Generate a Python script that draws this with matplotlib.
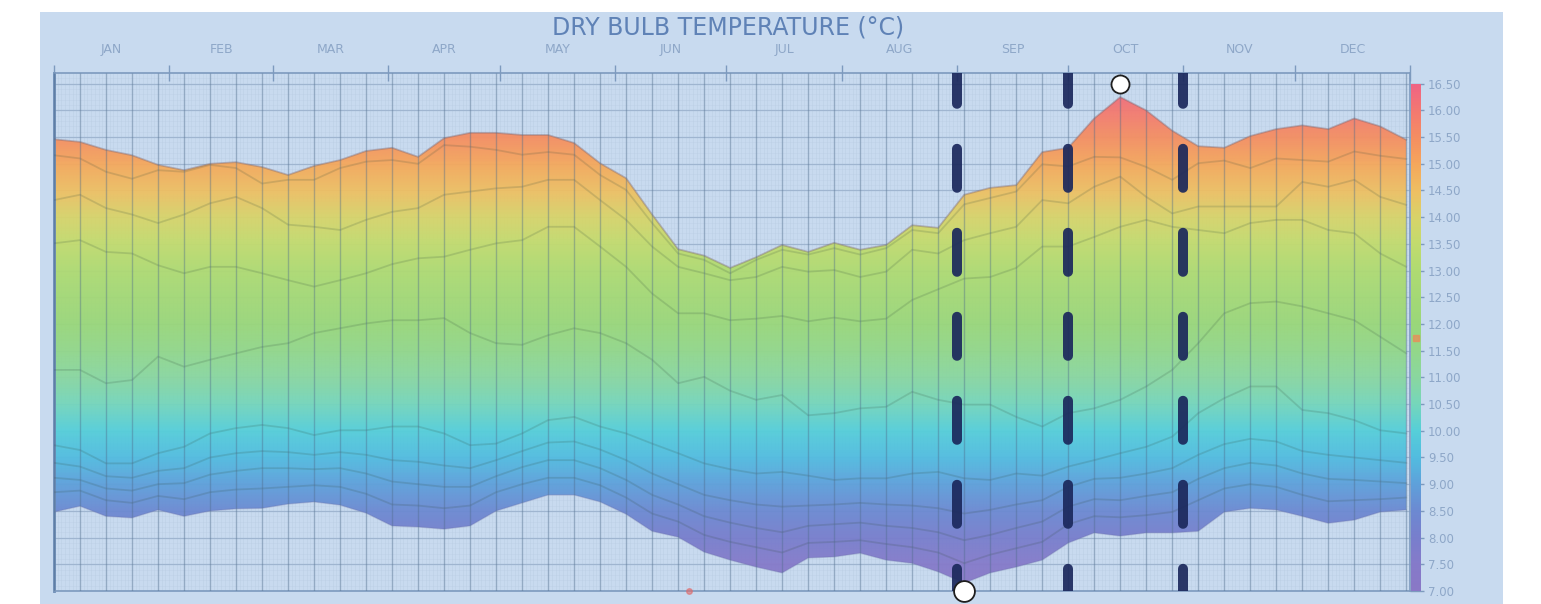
import numpy as np
import matplotlib
matplotlib.use("Agg")
import matplotlib.pyplot as plt
from matplotlib.colors import LinearSegmentedColormap
from matplotlib.patches import Polygon, Rectangle

# weekly samples of the daily dry bulb temperature spread (deg C)
weeks = np.arange(53)

t_max = [15.46, 15.41, 15.26, 15.16, 14.98, 14.88, 15.00, 15.03, 14.94, 14.79, 14.96, 15.07, 15.24, 15.30,
         15.13, 15.48, 15.58, 15.58, 15.54, 15.54, 15.39, 15.01, 14.73, 14.05, 13.40, 13.28, 13.05,
         13.25, 13.48, 13.35, 13.52, 13.39, 13.48, 13.85, 13.80, 14.42, 14.55, 14.60, 15.22,
         15.30, 15.85, 16.25, 16.00, 15.62, 15.33, 15.30, 15.52, 15.65, 15.72, 15.65, 15.85, 15.70, 15.45]
t_a = [15.16, 15.10, 14.85, 14.72, 14.88, 14.85, 14.98, 14.92, 14.63, 14.70, 14.70, 14.92, 15.04, 15.07,
       15.00, 15.35, 15.32, 15.26, 15.17, 15.22, 15.17, 14.79, 14.51, 13.89, 13.32, 13.20, 12.95,
       13.20, 13.39, 13.30, 13.42, 13.30, 13.42, 13.76, 13.70, 14.24, 14.36, 14.48, 14.99,
       14.95, 15.13, 15.12, 14.94, 14.70, 15.01, 15.06, 14.92, 15.10, 15.07, 15.04, 15.23, 15.15, 15.09]
t_b = [14.32, 14.42, 14.17, 14.05, 13.89, 14.05, 14.26, 14.38, 14.17, 13.86, 13.82, 13.76, 13.95, 14.10,
       14.17, 14.42, 14.48, 14.54, 14.57, 14.70, 14.70, 14.32, 13.95, 13.45, 13.07, 12.95, 12.82,
       12.88, 13.07, 12.98, 13.01, 12.88, 12.98, 13.39, 13.32, 13.57, 13.70, 13.82, 14.32,
       14.26, 14.57, 14.76, 14.38, 14.07, 14.20, 14.20, 14.20, 14.20, 14.66, 14.57, 14.70, 14.38, 14.23]
t_c = [13.51, 13.57, 13.35, 13.32, 13.10, 12.95, 13.07, 13.07, 12.95, 12.82, 12.70, 12.82, 12.95, 13.12,
       13.23, 13.26, 13.39, 13.51, 13.57, 13.82, 13.82, 13.45, 13.07, 12.57, 12.20, 12.20, 12.07,
       12.10, 12.15, 12.05, 12.12, 12.05, 12.10, 12.45, 12.65, 12.85, 12.88, 13.05, 13.45,
       13.45, 13.63, 13.82, 13.95, 13.82, 13.76, 13.70, 13.89, 13.95, 13.95, 13.76, 13.70, 13.32, 13.07]
t_d = [11.14, 11.14, 10.89, 10.95, 11.39, 11.20, 11.33, 11.45, 11.57, 11.64, 11.83, 11.92, 12.01, 12.07,
       12.07, 12.11, 11.83, 11.64, 11.61, 11.79, 11.92, 11.83, 11.64, 11.33, 10.89, 11.01, 10.75,
       10.58, 10.67, 10.29, 10.33, 10.42, 10.45, 10.73, 10.58, 10.49, 10.49, 10.26, 10.08,
       10.33, 10.42, 10.58, 10.83, 11.14, 11.64, 12.20, 12.39, 12.42, 12.33, 12.20, 12.07, 11.76, 11.45]
t_e = [9.73, 9.64, 9.39, 9.39, 9.58, 9.70, 9.95, 10.05, 10.11, 10.05, 9.92, 10.01, 10.01, 10.08,
       10.08, 9.95, 9.73, 9.76, 9.95, 10.20, 10.26, 10.08, 9.95, 9.76, 9.58, 9.39, 9.28,
       9.20, 9.23, 9.16, 9.08, 9.11, 9.11, 9.20, 9.23, 9.11, 9.08, 9.20, 9.16,
       9.33, 9.45, 9.58, 9.70, 9.89, 10.33, 10.61, 10.83, 10.83, 10.39, 10.33, 10.20, 10.01, 9.95]
t_f = [9.40, 9.33, 9.15, 9.12, 9.25, 9.30, 9.50, 9.58, 9.62, 9.60, 9.55, 9.60, 9.55, 9.45,
       9.42, 9.35, 9.30, 9.45, 9.62, 9.78, 9.80, 9.65, 9.45, 9.20, 9.00, 8.80, 8.70,
       8.62, 8.58, 8.60, 8.62, 8.65, 8.62, 8.60, 8.55, 8.45, 8.52, 8.62, 8.70,
       8.95, 9.10, 9.12, 9.20, 9.30, 9.55, 9.75, 9.85, 9.80, 9.62, 9.55, 9.50, 9.45, 9.40]
t_g = [9.12, 9.08, 8.92, 8.88, 9.00, 9.02, 9.18, 9.25, 9.30, 9.30, 9.28, 9.30, 9.20, 9.05,
       9.00, 8.95, 8.95, 9.15, 9.32, 9.45, 9.45, 9.30, 9.08, 8.80, 8.62, 8.40, 8.28,
       8.18, 8.10, 8.22, 8.25, 8.28, 8.22, 8.18, 8.10, 7.95, 8.05, 8.18, 8.30,
       8.58, 8.72, 8.70, 8.78, 8.85, 9.10, 9.30, 9.40, 9.35, 9.20, 9.10, 9.08, 9.05, 9.02]
t_h = [8.85, 8.88, 8.70, 8.65, 8.78, 8.72, 8.85, 8.90, 8.92, 8.95, 8.98, 8.95, 8.82, 8.62,
       8.60, 8.55, 8.60, 8.85, 9.00, 9.12, 9.12, 8.98, 8.75, 8.45, 8.30, 8.05, 7.92,
       7.82, 7.72, 7.90, 7.92, 7.95, 7.88, 7.82, 7.72, 7.52, 7.68, 7.80, 7.92,
       8.25, 8.40, 8.38, 8.42, 8.48, 8.70, 8.92, 9.00, 8.95, 8.80, 8.68, 8.70, 8.72, 8.75]
t_min = [8.48, 8.59, 8.40, 8.37, 8.52, 8.40, 8.50, 8.54, 8.55, 8.63, 8.67, 8.61, 8.46, 8.22,
         8.20, 8.16, 8.22, 8.50, 8.65, 8.80, 8.80, 8.67, 8.44, 8.12, 8.01, 7.73, 7.58,
         7.45, 7.34, 7.62, 7.64, 7.71, 7.58, 7.52, 7.36, 7.15, 7.34, 7.45, 7.58,
         7.90, 8.09, 8.03, 8.09, 8.09, 8.12, 8.48, 8.55, 8.52, 8.40, 8.27, 8.33, 8.48, 8.52]

months = ["JAN", "FEB", "MAR", "APR", "MAY", "JUN", "JUL", "AUG", "SEP", "OCT", "NOV", "DEC"]
month_start = [0, 31, 59, 90, 120, 151, 181, 212, 243, 273, 304, 334, 365]
markers_day = [243, 273, 304]          # dashed vertical markers (Sep 1, Oct 1, Nov 1)
y_ticks = np.arange(7.0, 16.51, 0.5)
y_lo, y_hi = 7.0, 16.5
today = 171
today_value = 11.74

days = weeks * 7
i_max = int(np.argmax(t_max))
i_min = int(np.argmin(t_min))

# colours of the temperature gradient
cmap = LinearSegmentedColormap.from_list("temp", [
    (0.000, "#8a78c6"), (0.053, "#857bca"), (0.105, "#787fcd"), (0.158, "#6c8ad2"),
    (0.211, "#5ea2db"), (0.263, "#52bde0"), (0.316, "#56cfd9"), (0.368, "#76d6bb"),
    (0.421, "#8ad7a0"), (0.474, "#93d78a"), (0.526, "#9ad77a"), (0.632, "#afdb72"),
    (0.684, "#c2dc6e"), (0.737, "#d8d46a"), (0.789, "#eec063"), (0.842, "#f5a85c"),
    (0.895, "#f58f62"), (0.947, "#f47a70"), (1.000, "#f06484")])

panel = "#c8daef"
axis_col = "#7d9abe"
text_col = "#8ea7c8"

fig = plt.figure(figsize=(15.41, 6.04), dpi=100)
fig.patch.set_facecolor("white")
fig.add_artist(Rectangle((40 / 1541, 0), 1463 / 1541, 592 / 604, transform=fig.transFigure,
                         facecolor=panel, edgecolor="none", zorder=0))

ax = fig.add_axes([54 / 1541, 13 / 604, 1356 / 1541, 518 / 604])
ax.set_facecolor("none")

# background grid
ax.vlines(np.arange(0, 366), y_lo, 16.7, color="#aec2da", lw=0.5, alpha=0.35, zorder=1)
ax.hlines(np.arange(7.0, 16.7, 0.1), 0, 365, color="#b4c7de", lw=0.5, alpha=0.3, zorder=1)
ax.hlines(y_ticks, 0, 365, color="#9fb5d0", lw=0.9, zorder=1)

# gradient filled band
poly = Polygon(np.column_stack([np.r_[days, days[::-1]], np.r_[t_max, t_min[::-1]]]),
               closed=True, facecolor="none", edgecolor="none")
ax.add_patch(poly)
grad = np.linspace(y_lo, y_hi, 500).reshape(-1, 1)
im = ax.imshow(grad, extent=[0, 365, y_lo, y_hi], origin="lower", aspect="auto",
               cmap=cmap, vmin=y_lo, vmax=y_hi, alpha=0.95, zorder=2)
im.set_clip_path(poly)

for s in [t_a, t_b, t_c, t_d, t_e, t_f, t_g, t_h]:
    ax.plot(days, s, color="#2f4a3a", alpha=0.17, lw=1.3, zorder=3)
ax.plot(days, t_max, color="#7c6670", alpha=0.4, lw=1.3, zorder=3)
ax.plot(days, t_min, color="#6a70a8", alpha=0.3, lw=1.0, zorder=3)

# weekly lines over the band
ax.vlines(days, y_lo, 16.7, color="#4f6c8c", lw=1.0, alpha=0.4, zorder=4)

# dashed month markers
for d in markers_day:
    ax.plot([d, d], [16.7, y_lo], color="#1b285c", lw=7.2, alpha=0.92,
            linestyle=(0.82, (3.9, 4.5)), dash_capstyle="round", zorder=5)

# max / min markers
ax.plot(days[i_max], y_hi, "o", ms=13, mfc="white", mec="#1e1e1e", mew=1.3, clip_on=False, zorder=7)
ax.plot(days[i_min], y_lo, "o", ms=15, mfc="white", mec="#1e1e1e", mew=1.3, clip_on=False, zorder=7)
ax.plot(today, y_lo, "o", ms=4, color="#e06a6a", alpha=0.6, clip_on=False, zorder=6)

ax.set_xlim(0, 365)
ax.set_ylim(y_lo, 16.7)

# month axis on top
ax.xaxis.set_ticks_position("top")
ax.set_xticks(month_start)
ax.set_xticklabels([""] * len(month_start))
mid = [(month_start[i] + month_start[i + 1]) / 2 for i in range(12)]
ax.set_xticks(mid, minor=True)
ax.set_xticklabels(months, minor=True)
ax.tick_params(axis="x", which="major", direction="inout", length=12, width=1, color=axis_col)
ax.tick_params(axis="x", which="minor", length=0, pad=12, labelsize=9, labelcolor=text_col)

# temperature axis on right
ax.yaxis.tick_right()
ax.set_yticks(y_ticks)
ax.set_yticklabels([f"{v:.2f}" for v in y_ticks])
ax.tick_params(axis="y", direction="out", length=10, width=1, color=axis_col, pad=3,
               labelsize=8.5, labelcolor=text_col)

for k in ["top", "bottom", "right"]:
    ax.spines[k].set_color(axis_col)
    ax.spines[k].set_linewidth(1.2)
ax.spines["left"].set_color("#6a8ab4")
ax.spines["left"].set_linewidth(2)

# colour strip on the right edge
sx = fig.add_axes([1411 / 1541, 13 / 604, 9 / 1541, 507 / 604])
sx.imshow(grad, extent=[0, 1, y_lo, y_hi], origin="lower", aspect="auto", cmap=cmap,
          vmin=y_lo, vmax=y_hi)
sx.plot(0.5, today_value, "s", ms=4, color="#e8905a", alpha=0.8)
sx.set_xlim(0, 1)
sx.set_ylim(y_lo, y_hi)
sx.axis("off")

fig.text(728 / 1541, 1 - 28 / 604, "DRY BULB TEMPERATURE (°C)", ha="center", va="center",
         fontsize=17, color="#5f82b6")

fig.savefig("out.png", dpi=100)
